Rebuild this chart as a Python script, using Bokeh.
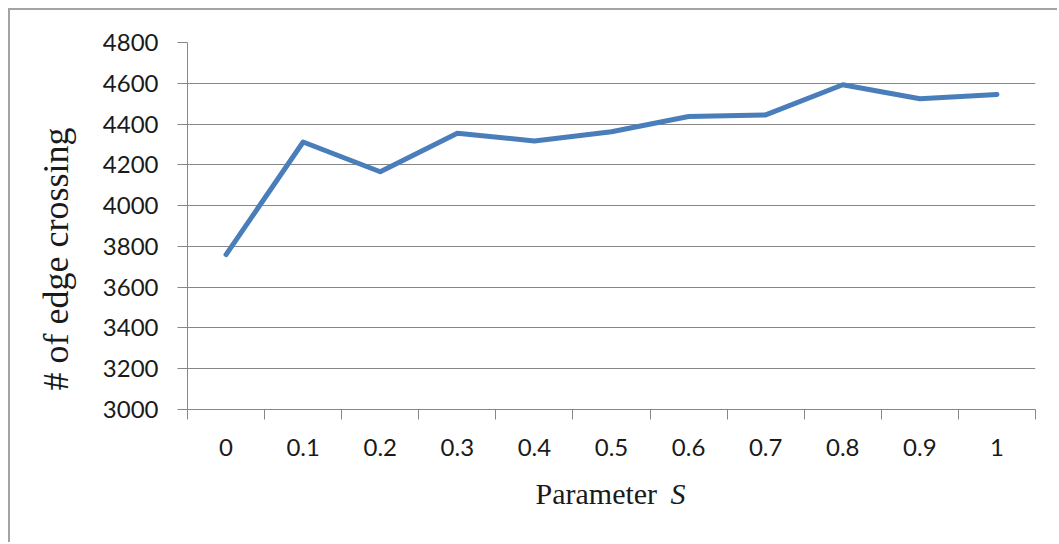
from bokeh.plotting import figure
from bokeh.models import Range1d, FixedTicker, Title
from bokeh.embed import file_html
from bokeh.resources import INLINE

# Edge-crossing count for each value of the parameter S
s_labels = ["0", "0.1", "0.2", "0.3", "0.4", "0.5", "0.6", "0.7", "0.8", "0.9", "1"]
crossings = [3760, 4312, 4166, 4355, 4317, 4362, 4437, 4445, 4593, 4524, 4545]
y_ticks = [3000, 3200, 3400, 3600, 3800, 4000, 4200, 4400, 4600, 4800]

idx = list(range(len(s_labels)))

TICK_FONT = "Lato"
TITLE_FONT = "Liberation Serif"
GRID = "#878787"
INK = "#1a1a1a"

p = figure(
    width=1049, height=534,
    output_backend="svg", toolbar_location=None,
    x_range=Range1d(-0.5, len(s_labels) - 0.5),
    y_range=Range1d(y_ticks[0], y_ticks[-1]),
    min_border_left=175, min_border_right=24,
    min_border_top=32, min_border_bottom=135,
)
p.margin = (8, 0, 0, 8)
p.styles = {"border-top": "2px solid #a3a3a3", "border-left": "2px solid #a3a3a3"}
p.outline_line_color = None
p.background_fill_color = "white"
p.border_fill_color = "white"

# category axis: labels at centres, tick marks between categories
p.xaxis.ticker = FixedTicker(ticks=idx, minor_ticks=[i - 0.5 for i in range(len(idx) + 1)])
p.xaxis.major_label_overrides = {i: lab for i, lab in zip(idx, s_labels)}
p.xaxis.major_tick_out = 0
p.xaxis.major_tick_in = 0
p.xaxis.minor_tick_out = 10
p.xaxis.minor_tick_in = 0
p.xaxis.minor_tick_line_color = GRID
p.xaxis.axis_line_color = GRID
p.xaxis.major_label_standoff = 19
p.xaxis.major_label_text_font = TICK_FONT
p.xaxis.major_label_text_font_size = "24px"
p.xaxis.major_label_text_color = INK

p.yaxis.ticker = FixedTicker(ticks=y_ticks, minor_ticks=[])
p.yaxis.major_tick_out = 10
p.yaxis.major_tick_in = 0
p.yaxis.major_tick_line_color = GRID
p.yaxis.axis_line_color = GRID
p.yaxis.major_label_standoff = 19
p.yaxis.major_label_text_font = TICK_FONT
p.yaxis.major_label_text_font_size = "24px"
p.yaxis.major_label_text_color = INK

p.xgrid.visible = False
p.ygrid.ticker = FixedTicker(ticks=y_ticks[:-1])
p.ygrid.grid_line_color = GRID
p.ygrid.grid_line_width = 1

p.line(idx, crossings, line_color="#4A7EBB", line_width=5,
       line_cap="round", line_join="round")

# axis titles; the two parts of the x title share one baseline
X_TITLE_STANDOFF = -103
p.add_layout(Title(text="# of edge crossing", align="left", offset=19, standoff=47,
                   text_font=TITLE_FONT, text_font_size="36px",
                   text_font_style="normal", text_color=INK), "left")
p.add_layout(Title(text="Parameter", align="left", offset=348, standoff=X_TITLE_STANDOFF,
                   text_font=TITLE_FONT, text_font_size="30px",
                   text_font_style="normal", text_color=INK), "below")
p.add_layout(Title(text="S", align="left", offset=483, standoff=X_TITLE_STANDOFF,
                   text_font=TITLE_FONT, text_font_size="30px",
                   text_font_style="italic", text_color=INK), "below")

open("out.html", "w").write(file_html(p, INLINE))
